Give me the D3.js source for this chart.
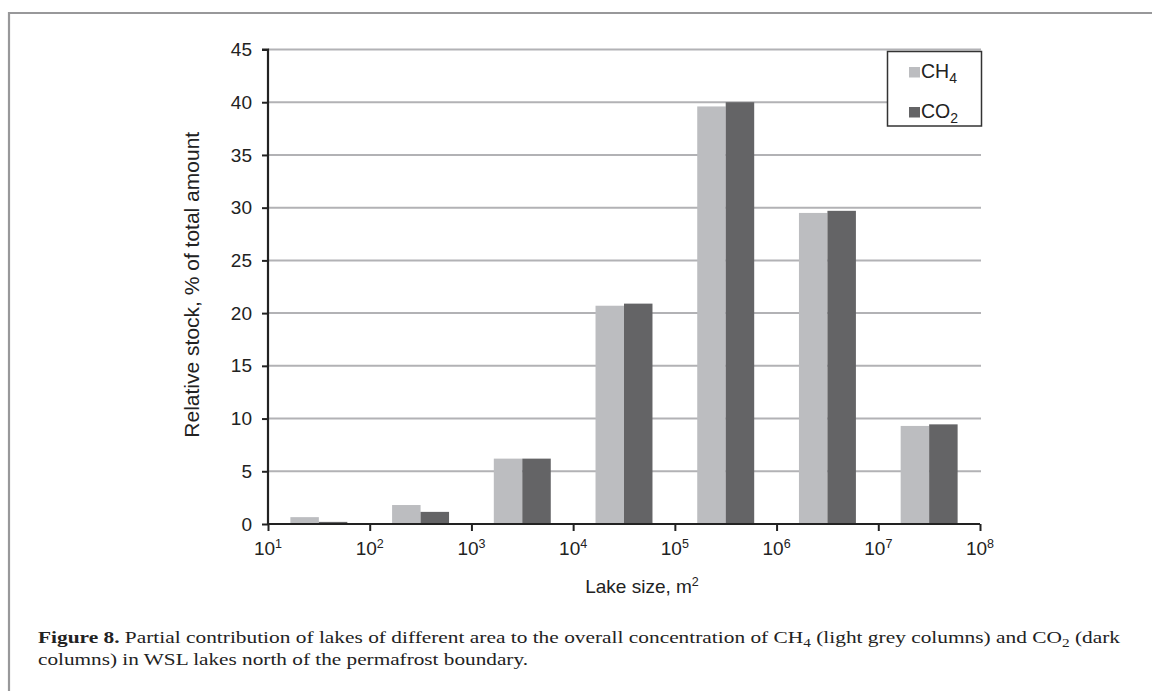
<!DOCTYPE html>
<html>
<head>
<meta charset="utf-8">
<script src="https://cdn.jsdelivr.net/npm/d3@7"></script>
<style>
  body { margin: 0; background: #fff; }
  svg { display: block; }
</style>
</head>
<body>
<svg id="chart"></svg>
<script>
// lake size classes (lower bound of each decade, m2)
const classes = [1e1, 1e2, 1e3, 1e4, 1e5, 1e6, 1e7];
const series = ["CH4", "CO2"];
const ch4Values = [0.65, 1.8, 6.2, 20.7, 39.6, 29.5, 9.3];
const co2Values = [0.2, 1.15, 6.2, 20.9, 40.0, 29.7, 9.45];
const yTicks = [0, 5, 10, 15, 20, 25, 30, 35, 40, 45];
const xTickExps = [1, 2, 3, 4, 5, 6, 7, 8];

const width = 1152;
const height = 691;
const LEFT = 268, RIGHT = 980, TOP = 49.5, BOTTOM = 524;
const colors = { CH4: "#bcbdc0", CO2: "#646466" };
const FONT = "'Liberation Sans', Arial, sans-serif";
const FS = 19;

const svg = d3.select("#chart").attr("width", width).attr("height", height);

// figure frame
svg.append("path")
    .attr("d", `M9,${height + 5}V13H${width + 5}`)
    .attr("fill", "none")
    .attr("stroke", "#98989a")
    .attr("stroke-width", 2.2);

const x = d3.scaleLog().domain([1e1, 1e8]).range([LEFT, RIGHT]);
const xGroup = d3.scaleBand().domain(classes).range([LEFT, RIGHT])
    .paddingInner(0.44).paddingOuter(0.22);
const xSub = d3.scaleBand().domain(series).range([0, xGroup.bandwidth()]);
const y = d3.scaleLinear().domain([0, 45]).range([BOTTOM, TOP]);

// gridlines
svg.append("g")
    .selectAll("line")
    .data(yTicks.filter(d => d > 0))
    .enter().append("line")
    .attr("x1", LEFT).attr("x2", RIGHT + 1)
    .attr("y1", d => y(d)).attr("y2", d => y(d))
    .attr("stroke", "#b2b2b5")
    .attr("stroke-width", 2);

// bars
const rows = classes.map((c, i) => ({ cls: c, CH4: ch4Values[i], CO2: co2Values[i] }));
const group = svg.append("g")
    .selectAll("g")
    .data(rows)
    .enter().append("g")
    .attr("transform", d => `translate(${xGroup(d.cls)},0)`);
group.selectAll("rect")
    .data(d => series.map(s => ({ key: s, value: d[s] })))
    .enter().append("rect")
    .attr("x", d => xSub(d.key))
    .attr("width", xSub.bandwidth())
    .attr("y", d => y(d.value))
    .attr("height", d => y(0) - y(d.value))
    .attr("fill", d => colors[d.key]);

// y axis
const yAxis = svg.append("g")
    .attr("transform", `translate(${LEFT},0)`)
    .call(d3.axisLeft(y).tickValues(yTicks).tickSize(6).tickPadding(10));
yAxis.select(".domain").attr("stroke", "#222").attr("stroke-width", 2.2)
    .attr("d", `M-6,${TOP}H0V${BOTTOM}`);
yAxis.selectAll(".tick line").attr("stroke", "#222").attr("stroke-width", 2);
yAxis.selectAll(".tick text")
    .attr("font-family", FONT).attr("font-size", FS).attr("fill", "#222");

// x axis
const xAxis = svg.append("g")
    .attr("transform", `translate(0,${BOTTOM})`)
    .call(d3.axisBottom(x).tickValues(xTickExps.map(e => Math.pow(10, e)))
        .tickSize(7).tickFormat(""));
xAxis.select(".domain").attr("stroke", "#222").attr("stroke-width", 2.2)
    .attr("d", `M${LEFT},0H${RIGHT}`);
xAxis.selectAll(".tick line").attr("stroke", "#222").attr("stroke-width", 2);

const xLab = svg.append("g").selectAll("text")
    .data(xTickExps)
    .enter().append("text")
    .attr("x", d => x(Math.pow(10, d)))
    .attr("y", 555)
    .attr("text-anchor", "middle")
    .attr("font-family", FONT).attr("font-size", FS).attr("fill", "#222");
xLab.append("tspan").text("10");
xLab.append("tspan").attr("dy", -7).attr("font-size", 12.5).text(d => d);

// axis titles
const xTitle = svg.append("text")
    .attr("x", 642).attr("y", 593)
    .attr("text-anchor", "middle")
    .attr("font-family", FONT).attr("font-size", FS).attr("fill", "#222");
xTitle.append("tspan").text("Lake size, m");
xTitle.append("tspan").attr("dy", -7).attr("font-size", 12.5).text("2");

svg.append("text")
    .attr("transform", `translate(199,${(TOP + BOTTOM) / 2 - 2}) rotate(-90)`)
    .attr("text-anchor", "middle")
    .attr("font-family", FONT).attr("font-size", 21).attr("fill", "#222")
    .text("Relative stock, % of total amount");

// legend
const legend = svg.append("g");
legend.append("rect")
    .attr("x", 887.5).attr("y", 51.5).attr("width", 94).attr("height", 74.5)
    .attr("fill", "#fff").attr("stroke", "#333").attr("stroke-width", 1.5);
const legendRows = [
    { key: "CH4", base: "CH", sub: "4", y: 77.5 },
    { key: "CO2", base: "CO", sub: "2", y: 117.5 }
];
legendRows.forEach(r => {
    legend.append("rect")
        .attr("x", 909).attr("y", r.y - 10.5).attr("width", 11).attr("height", 10.5)
        .attr("fill", colors[r.key]);
    const t = legend.append("text")
        .attr("x", 921).attr("y", r.y)
        .attr("font-family", FONT).attr("font-size", 19.5).attr("fill", "#222");
    t.append("tspan").text(r.base);
    t.append("tspan").attr("dy", 5.5).attr("font-size", 14).text(r.sub);
});

// caption
const CAP = "'Liberation Serif', 'DejaVu Serif', serif";
const cap1 = svg.append("text")
    .attr("x", 38).attr("y", 643)
    .attr("font-family", CAP).attr("font-size", 17.5).attr("fill", "#222")
    .attr("textLength", 1082).attr("lengthAdjust", "spacingAndGlyphs");
cap1.append("tspan").attr("font-weight", "bold").text("Figure 8.");
cap1.append("tspan").text(" Partial contribution of lakes of different area to the overall concentration of CH");
cap1.append("tspan").attr("dy", 4).attr("font-size", 12.5).text("4");
cap1.append("tspan").attr("dy", -4).text(" (light grey columns) and CO");
cap1.append("tspan").attr("dy", 4).attr("font-size", 12.5).text("2");
cap1.append("tspan").attr("dy", -4).text(" (dark");
svg.append("text")
    .attr("x", 38).attr("y", 665)
    .attr("font-family", CAP).attr("font-size", 17.5).attr("fill", "#222")
    .attr("textLength", 490).attr("lengthAdjust", "spacingAndGlyphs")
    .text("columns) in WSL lakes north of the permafrost boundary.");
</script>
</body>
</html>
